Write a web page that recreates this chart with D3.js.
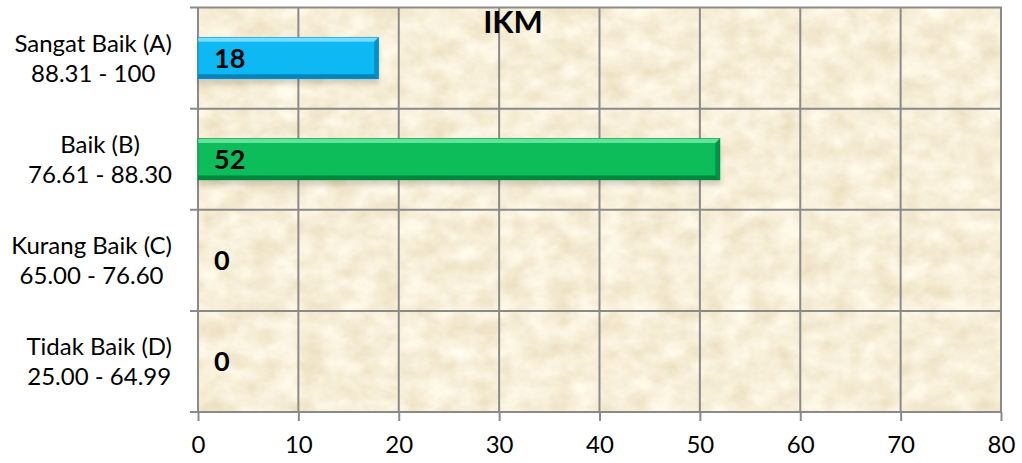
<!DOCTYPE html>
<html>
<head>
<meta charset="utf-8">
<script src="https://cdn.jsdelivr.net/npm/d3@7"></script>
<style>
  html, body { margin: 0; padding: 0; background: #ffffff; }
  svg { display: block; }
</style>
</head>
<body>
<svg id="chart" width="1022" height="463"></svg>
<script>
// IKM score categories (top to bottom) and respondent counts
const categoryNames = ["Sangat Baik (A)", "Baik (B)", "Kurang Baik (C)", "Tidak Baik (D)"];
const categoryRanges = ["88.31 - 100", "76.61 - 88.30", "65.00 - 76.60", "25.00 - 64.99"];
const counts = [18, 52, 0, 0];
const xTicks = [0, 10, 20, 30, 40, 50, 60, 70, 80];
const chartTitle = "IKM";

const barStyles = [
  { main: "#08b8f3", light: "#74ddff", dark: "#0385bd" },
  { main: "#07bd5a", light: "#62e49a", dark: "#04873d" },
  { main: "#07bd5a", light: "#62e49a", dark: "#04873d" },
  { main: "#07bd5a", light: "#62e49a", dark: "#04873d" }
];

const svg = d3.select("#chart");
const font = "Lato, 'Open Sans', sans-serif";
const gridColor = "#8a8a8a";

const plot = { left: 198, right: 1001, top: 7.5, bottom: 412 };

const x = d3.scaleLinear().domain([0, 80]).range([plot.left, plot.right]);
const y = d3.scaleBand().domain(categoryNames).range([plot.top, plot.bottom]);

// parchment texture for the plot background
const defs = svg.append("defs");
const tex = defs.append("filter").attr("id", "parchment")
  .attr("x", 0).attr("y", 0).attr("width", 1).attr("height", 1);
tex.append("feTurbulence").attr("type", "fractalNoise")
  .attr("baseFrequency", "0.04 0.05").attr("numOctaves", 5).attr("seed", 11).attr("result", "n");
tex.append("feColorMatrix").attr("in", "n").attr("type", "matrix")
  .attr("values", [
    0.22, 0, 0, 0, 0.82,
    0.30, 0, 0, 0, 0.71,
    0.42, 0, 0, 0, 0.48,
    0, 0, 0, 0, 1
  ].join(" "));

const shadow = defs.append("filter").attr("id", "barShadow")
  .attr("x", "-5%").attr("y", "-30%").attr("width", "110%").attr("height", "180%");
shadow.append("feGaussianBlur").attr("in", "SourceAlpha").attr("stdDeviation", 2.5).attr("result", "b");
shadow.append("feOffset").attr("in", "b").attr("dx", 0).attr("dy", 5).attr("result", "o");
shadow.append("feComponentTransfer").attr("in", "o").attr("result", "s")
  .append("feFuncA").attr("type", "linear").attr("slope", 0.15);
const sm = shadow.append("feMerge");
sm.append("feMergeNode").attr("in", "s");
sm.append("feMergeNode").attr("in", "SourceGraphic");

svg.append("rect")
  .attr("x", plot.left).attr("y", plot.top)
  .attr("width", plot.right - plot.left).attr("height", plot.bottom - plot.top)
  .attr("filter", "url(#parchment)");

// vertical gridlines
svg.append("g").selectAll("line").data(xTicks).join("line")
  .attr("x1", d => x(d)).attr("x2", d => x(d))
  .attr("y1", plot.top).attr("y2", plot.bottom)
  .attr("stroke", gridColor).attr("stroke-width", 2);

// horizontal band boundaries with small ticks to the left
const boundaries = categoryNames.map(c => y(c)).concat([y.range()[1]]);
svg.append("g").selectAll("line").data(boundaries).join("line")
  .attr("x1", plot.left - 8).attr("x2", plot.right + 1)
  .attr("y1", d => d).attr("y2", d => d)
  .attr("stroke", gridColor).attr("stroke-width", 2);

// bottom axis
const xAxis = svg.append("g")
  .attr("transform", `translate(0,${plot.bottom})`)
  .call(d3.axisBottom(x).tickValues(xTicks).tickSize(9).tickPadding(15).tickSizeOuter(0));
xAxis.select(".domain").remove();
xAxis.selectAll(".tick line").attr("stroke", gridColor).attr("stroke-width", 2);
xAxis.selectAll(".tick text")
  .attr("font-family", font).attr("font-size", 24).attr("fill", "#000");

// category labels: two centred lines, block right-aligned next to the axis
const labelRight = 172;
const labelGroups = svg.append("g").selectAll("g").data(categoryNames).join("g");
labelGroups.each(function(name, i) {
  const g = d3.select(this);
  const cy = y(name) + y.bandwidth() / 2;
  const t1 = g.append("text").text(name).attr("y", cy - 6);
  const t2 = g.append("text").text(categoryRanges[i]).attr("y", cy + 24);
  [t1, t2].forEach(t => t.attr("font-family", font).attr("font-size", 24)
    .attr("fill", "#000").attr("text-anchor", "middle"));
  const w = Math.max(t1.node().getComputedTextLength(), t2.node().getComputedTextLength());
  t1.attr("x", labelRight - w / 2);
  t2.attr("x", labelRight - w / 2);
});

// bevelled bars
const barH = y.bandwidth() * 0.41;
const bev = 4.5;
const bars = svg.append("g").selectAll("g").data(counts).join("g")
  .attr("filter", "url(#barShadow)");
bars.each(function(v, i) {
  if (v <= 0) return;
  const g = d3.select(this);
  const st = barStyles[i];
  const x0 = x(0), x1 = x(v);
  const y0 = y(categoryNames[i]) + (y.bandwidth() - barH) / 2, y1 = y0 + barH;
  g.append("rect").attr("x", x0).attr("y", y0).attr("width", x1 - x0).attr("height", barH)
    .attr("fill", st.main);
  g.append("polygon")
    .attr("points", [[x0, y0], [x1, y0], [x1 - bev, y0 + bev], [x0, y0 + bev]].join(" "))
    .attr("fill", st.light);
  g.append("polygon")
    .attr("points", [[x0, y1], [x1, y1], [x1 - bev, y1 - bev], [x0, y1 - bev]].join(" "))
    .attr("fill", st.dark);
  g.append("polygon")
    .attr("points", [[x1 - bev, y0 + bev], [x1, y0], [x1, y1], [x1 - bev, y1 - bev]].join(" "))
    .attr("fill", st.dark).attr("opacity", 0.75);
  g.append("rect").attr("x", x0).attr("y", y0).attr("width", x1 - x0).attr("height", barH)
    .attr("fill", "none").attr("stroke", st.dark).attr("stroke-width", 0.8).attr("stroke-opacity", 0.6);
});

// value labels at the bar base
svg.append("g").selectAll("text").data(counts).join("text")
  .attr("x", x(0) + 16)
  .attr("y", (d, i) => y(categoryNames[i]) + y.bandwidth() / 2 + 10)
  .attr("font-family", font).attr("font-size", 27).attr("font-weight", "bold")
  .attr("fill", "#000")
  .text(d => d);

// title
svg.append("text")
  .attr("x", 513).attr("y", 32.5)
  .attr("text-anchor", "middle")
  .attr("font-family", font).attr("font-size", 31).attr("font-weight", "bold")
  .attr("fill", "#000")
  .text(chartTitle);
</script>
</body>
</html>
